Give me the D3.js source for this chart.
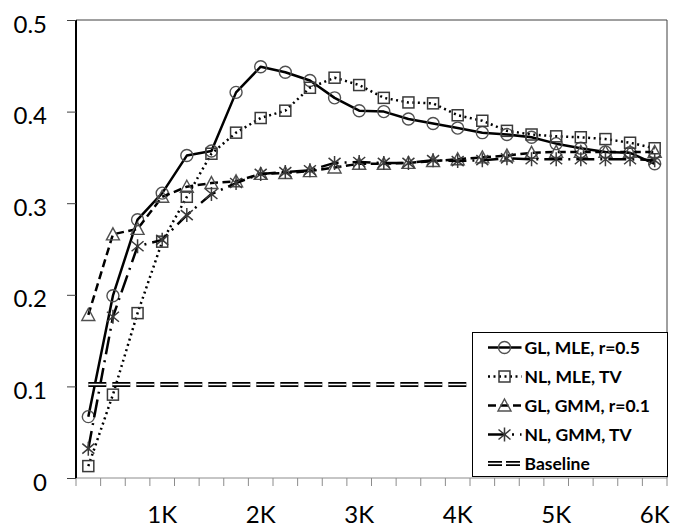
<!DOCTYPE html>
<html>
<head>
<meta charset="utf-8">
<script src="https://cdn.jsdelivr.net/npm/d3@7"></script>
<style>
  body { margin: 0; background: #fff; }
  text { font-family: Lato, "Open Sans", sans-serif; fill: #000; }
</style>
</head>
<body>
<div id="chart"></div>
<script>

var svgWidth = 674;
var svgHeight = 527;

var margin = { top: 20, right: 7, bottom: 49, left: 76 };
var width = svgWidth - margin.left - margin.right;
var height = svgHeight - margin.top - margin.bottom;

// categories (samples)
var categories = [250, 500, 750, 1000, 1250, 1500, 1750, 2000, 2250, 2500, 2750, 3000,
  3250, 3500, 3750, 4000, 4250, 4500, 4750, 5000, 5250, 5500, 5750, 6000];
var xTickLabels = ["", "", "", "1K", "", "", "", "2K", "", "", "", "3K",
  "", "", "", "4K", "", "", "", "5K", "", "", "", "6K"];

var yTicks = [0, 0.1, 0.2, 0.3, 0.4, 0.5];
var yTickLabels = ["0", "0.1", "0.2", "0.3", "0.4", "0.5"];

// series values
var glMle = [0.067, 0.199, 0.282, 0.311, 0.352, 0.357, 0.421, 0.449, 0.443, 0.434, 0.415, 0.401,
  0.400, 0.392, 0.387, 0.382, 0.377, 0.375, 0.372, 0.365, 0.360, 0.356, 0.355, 0.343];
var nlMle = [0.013, 0.091, 0.180, 0.258, 0.307, 0.354, 0.377, 0.393, 0.401, 0.426, 0.437, 0.429,
  0.415, 0.410, 0.409, 0.396, 0.390, 0.379, 0.375, 0.373, 0.372, 0.370, 0.366, 0.360];
var glGmm = [0.178, 0.266, 0.272, 0.307, 0.318, 0.322, 0.324, 0.332, 0.333, 0.335, 0.339, 0.343,
  0.343, 0.344, 0.346, 0.348, 0.350, 0.352, 0.355, 0.356, 0.356, 0.356, 0.356, 0.356];
var nlGmm = [0.032, 0.176, 0.253, 0.260, 0.287, 0.310, 0.322, 0.332, 0.334, 0.336, 0.344, 0.345,
  0.344, 0.344, 0.347, 0.346, 0.347, 0.349, 0.348, 0.348, 0.348, 0.348, 0.348, 0.347];
var baseline = [0.102, 0.102, 0.102, 0.102, 0.102, 0.102, 0.102, 0.102, 0.102, 0.102, 0.102, 0.102,
  0.102, 0.102, 0.102, 0.102, 0.102, 0.102, 0.102, 0.102, 0.102, 0.102, 0.102, 0.102];

var seriesNames = ["GL, MLE, r=0.5", "NL, MLE, TV", "GL, GMM, r=0.1", "NL, GMM, TV", "Baseline"];

var series = [
  { name: seriesNames[0], values: glMle, dash: null, marker: "circle" },
  { name: seriesNames[1], values: nlMle, dash: "2,3.5", marker: "square" },
  { name: seriesNames[2], values: glGmm, dash: "8,4.5", marker: "triangle" },
  { name: seriesNames[3], values: nlGmm, dash: "18,6,2,6", marker: "star" }
];

var svg = d3.select("#chart")
  .append("svg")
  .attr("width", svgWidth)
  .attr("height", svgHeight);

var chartGroup = svg.append("g")
  .attr("transform", `translate(${margin.left}, ${margin.top})`);

var xBand = d3.scaleBand()
  .domain(categories)
  .range([0, width])
  .padding(0);

var xCenter = d => xBand(d) + xBand.bandwidth() / 2;

var yLinearScale = d3.scaleLinear()
  .domain([0, 0.5])
  .range([height, 0]);

// plot frame (top + right)
chartGroup.append("path")
  .attr("d", `M0,0H${width}V${height}`)
  .attr("fill", "none")
  .attr("stroke", "#404040")
  .attr("stroke-width", 1);

// bottom axis: ticks between categories
var bottom = chartGroup.append("g")
  .attr("transform", `translate(0, ${height})`);

bottom.append("line")
  .attr("x1", 0).attr("x2", width)
  .attr("stroke", "#8c8c8c");

bottom.selectAll(".xtick")
  .data(categories.concat(["end"]))
  .enter()
  .append("line")
  .attr("x1", d => d === "end" ? width : xBand(d))
  .attr("x2", d => d === "end" ? width : xBand(d))
  .attr("y1", 0).attr("y2", 8)
  .attr("stroke", "#8c8c8c");

bottom.selectAll(".xlabel")
  .data(categories)
  .enter()
  .append("text")
  .attr("x", d => xCenter(d))
  .attr("y", 45)
  .attr("text-anchor", "middle")
  .style("font-size", "24px")
  .text((d, i) => xTickLabels[i]);

// left axis
var leftAxis = d3.axisLeft(yLinearScale)
  .tickValues(yTicks)
  .tickSize(9)
  .tickFormat((d, i) => yTickLabels[i]);

var yAxis = chartGroup.append("g").call(leftAxis);
yAxis.select(".domain").attr("stroke", "#000").attr("stroke-width", 2).attr("d", `M0,0V${height}`);
yAxis.selectAll(".tick line").attr("stroke", "#404040");
yAxis.selectAll(".tick text")
  .attr("x", -29)
  .attr("dy", "0.5em")
  .style("font-size", "24px")
  .style("font-family", "Lato, 'Open Sans', sans-serif")
  .attr("fill", "#000");

// markers
function drawMarker(g, type) {
  var stroke = "#505050";
  if (type === "circle") {
    g.append("circle").attr("r", 6).attr("fill", "none")
      .attr("stroke", stroke).attr("stroke-width", 1.4);
  } else if (type === "square") {
    g.append("rect").attr("x", -5.5).attr("y", -5.5).attr("width", 11).attr("height", 11)
      .attr("fill", "none").attr("stroke", "#3a3a3a").attr("stroke-width", 1.5);
  } else if (type === "triangle") {
    g.append("path").attr("d", "M0,-6.5L6.5,5.5L-6.5,5.5Z")
      .attr("fill", "none").attr("stroke", stroke).attr("stroke-width", 1.4);
  } else if (type === "star") {
    g.append("path").attr("d", "M0,-7V7M-6,-5L6,5M-6,5L6,-5")
      .attr("fill", "none").attr("stroke", "#3a3a3a").attr("stroke-width", 1.5);
  }
}

var line = d3.line()
  .x((d, i) => xCenter(categories[i]))
  .y(d => yLinearScale(d));

series.forEach(function(s) {
  var g = chartGroup.append("g");
  g.append("path")
    .attr("d", line(s.values))
    .attr("fill", "none")
    .attr("stroke", "#000")
    .attr("stroke-width", 2.5)
    .attr("stroke-linejoin", "round")
    .attr("stroke-dasharray", s.dash);
  g.selectAll(".m")
    .data(s.values)
    .enter()
    .append("g")
    .attr("transform", (d, i) => `translate(${xCenter(categories[i])}, ${yLinearScale(d)})`)
    .each(function() { drawMarker(d3.select(this), s.marker); });
});

// baseline: double dashed line
var baseGroup = chartGroup.append("g");
baseGroup.append("path")
  .attr("d", line(baseline))
  .attr("fill", "none")
  .attr("stroke", "#000")
  .attr("stroke-width", 5)
  .attr("stroke-dasharray", "18,6");
baseGroup.append("path")
  .attr("d", line(baseline))
  .attr("fill", "none")
  .attr("stroke", "#fff")
  .attr("stroke-width", 1.4)
  .attr("stroke-dasharray", "18,6");

// legend
var legend = svg.append("g")
  .attr("transform", "translate(472.5, 332.5)");

legend.append("rect")
  .attr("width", 195)
  .attr("height", 144)
  .attr("fill", "#fff")
  .attr("stroke", "#000")
  .attr("stroke-width", 1);

var legendRows = legend.selectAll(".row")
  .data(seriesNames)
  .enter()
  .append("g")
  .attr("transform", (d, i) => `translate(0, ${15 + i * 29})`);

legendRows.each(function(name, i) {
  var row = d3.select(this);
  if (i < 4) {
    var s = series[i];
    row.append("line")
      .attr("x1", 15.5).attr("x2", 49)
      .attr("stroke", "#000").attr("stroke-width", 2.5)
      .attr("stroke-dasharray", s.dash);
    var m = row.append("g").attr("transform", "translate(32, 0)");
    drawMarker(m, s.marker);
  } else {
    row.append("line")
      .attr("x1", 15.5).attr("x2", 49)
      .attr("stroke", "#000").attr("stroke-width", 5)
      .attr("stroke-dasharray", "14,4");
    row.append("line")
      .attr("x1", 15.5).attr("x2", 49)
      .attr("stroke", "#fff").attr("stroke-width", 1.4);
  }
  row.append("text")
    .attr("x", 52)
    .attr("dy", "0.36em")
    .style("font-size", "17.5px")
    .style("font-weight", "bold")
    .text(name);
});

</script>
</body>
</html>
